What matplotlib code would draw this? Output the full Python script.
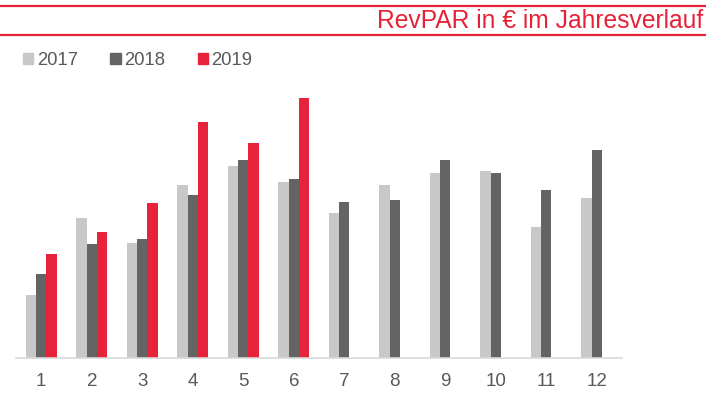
import numpy as np
import matplotlib
matplotlib.use('Agg')
import matplotlib.pyplot as plt
from matplotlib.lines import Line2D
from matplotlib.patches import Patch

plt.rcParams['font.family'] = ['Liberation Sans', 'DejaVu Sans']

# === Data (arbitrary units) ===
months = ['1', '2', '3', '4', '5', '6', '7', '8', '9', '10', '11', '12']
rev_2017 = [63, 140, 115, 173, 192, 176, 145, 173, 185, 187, 131, 160]
rev_2018 = [84, 114, 119, 163, 198, 179, 156, 158, 198, 185, 168, 208]
rev_2019 = [104, 126, 155, 236, 215, 260]

c2017 = '#c8c8c8'
c2018 = '#646464'
c2019 = '#e6233a'
red = '#e52238'
txt = '#595959'

W, H = 706, 419
fig = plt.figure(figsize=(W / 100, H / 100), dpi=100)
ax = fig.add_axes([16 / W, (H - 358) / H, 606 / W, 270 / H])

x = np.arange(len(months))
w = 0.205
ax.bar(x - w, rev_2017, w, color=c2017, label='2017')
ax.bar(x, rev_2018, w, color=c2018, label='2018')
ax.bar(x[:len(rev_2019)] + w, rev_2019, w, color=c2019, label='2019')

ax.set_xlim(-0.5, len(months) - 0.5)
ax.set_ylim(0, 270)
ax.set_xticks(x)
ax.set_xticklabels(months, fontsize=13.5, color=txt)
ax.tick_params(axis='x', length=0, pad=10.5)
ax.set_yticks([])
for s in ['top', 'right', 'left']:
    ax.spines[s].set_visible(False)
ax.spines['bottom'].set_color('#d9d9d9')
ax.spines['bottom'].set_linewidth(1.2)

# --- title band ---
fig.add_artist(Line2D([0, 1], [1 - 5.7 / H, 1 - 5.7 / H], color=red, lw=1.6))
fig.add_artist(Line2D([0, 1], [1 - 35 / H, 1 - 35 / H], color=red, lw=1.6))
fig.text(703 / W, 1 - 28.3 / H, 'RevPAR in € im Jahresverlauf', color=red,
         fontsize=17.7, ha='right', va='baseline')

# --- legend ---
handles = [Patch(color=c2017), Patch(color=c2018), Patch(color=c2019)]
fig.legend(handles, ['2017', '2018', '2019'], loc='center left',
           bbox_to_anchor=(14 / W, 1 - 60.5 / H), ncol=3, frameon=False,
           fontsize=13.3, labelcolor=txt, handlelength=0.55, handleheight=0.55,
           handletextpad=0.2, columnspacing=1.75, borderpad=0)

fig.savefig('out.png', dpi=100)
